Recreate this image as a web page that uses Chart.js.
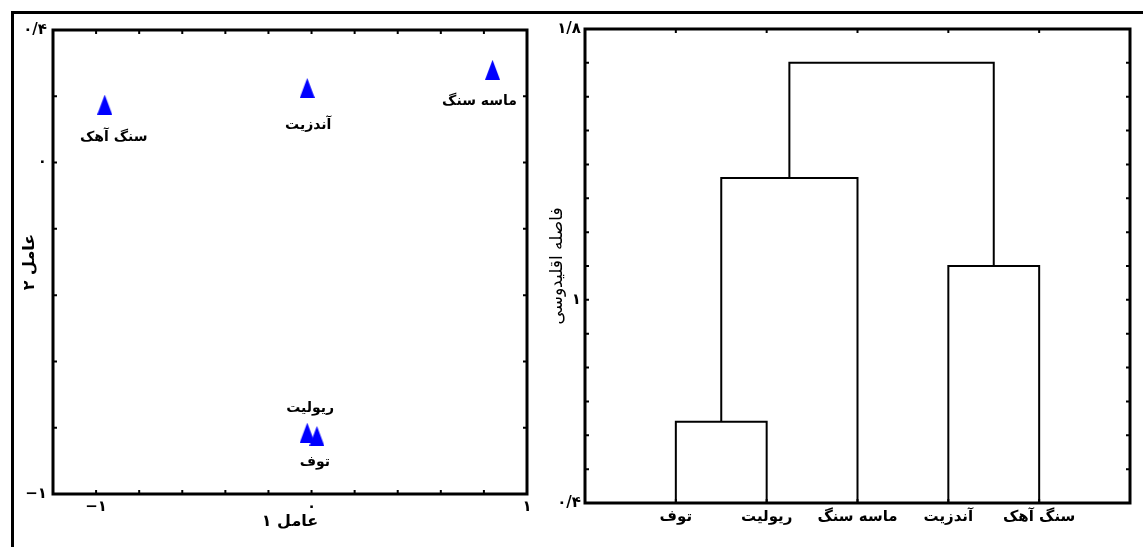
<!DOCTYPE html>
<html>
<head>
<meta charset="utf-8">
<script src="https://cdn.jsdelivr.net/npm/chart.js@4/dist/chart.umd.min.js"></script>
<style>
    body { margin: 0; background: #fff; width: 1143px; height: 547px; overflow: hidden; position: relative; }
    #frame { position: absolute; left: 11px; top: 11px; width: 1200px; height: 600px; border-top: 3px solid #000; border-left: 3px solid #000; }
    #left { position: absolute; left: 0; top: 0; }
    #right { position: absolute; left: 540px; top: 0; }
</style>
</head>
<body>
<div id="frame"></div>
<canvas id="left" width="560" height="547"></canvas>
<canvas id="right" width="603" height="547"></canvas>
<script>
// left panel: factor scores
const rocks = ['سنگ آهک', 'آندزیت', 'ماسه سنگ', 'ریولیت', 'توف'];
const factor1 = [-0.96, -0.02, 0.84, -0.02, 0.025];
const factor2 = [0.175, 0.225, 0.28, -0.815, -0.825];
const factor1Labels = [-1, 0, 1];
const factor2Labels = [-1, 0, 0.4];

// right panel: dendrogram
const leaves = ['توف', 'ریولیت', 'ماسه سنگ', 'آندزیت', 'سنگ آهک'];
const merges = [[0, 1], [5, 2], [3, 4], [6, 7]]; // node ids, leaves are 0..4
const mergeHeights = [0.64, 1.36, 1.10, 1.70];
const distLabels = [0.4, 1, 1.8];
const distMin = 0.4, distMax = 1.8;

// label placement (style only)
const rockLabelOffset = [[9, 33], [1, 37], [-13, 32], [3, -24], [-2, 26]];

const FONT = "'DejaVu Sans', sans-serif";
const faDigits = '۰۱۲۳۴۵۶۷۸۹';
function fa(v) {
    return String(+v.toFixed(2)).replace(/\d/g, d => faDigits[d]).replace('.', '/').replace('-', '−');
}
function pick(list) {
    return v => list.some(l => Math.abs(l - v) < 1e-6) ? fa(v) : '';
}

function triangleStyle() {
    const c = document.createElement('canvas');
    c.width = 15; c.height = 20;
    const g = c.getContext('2d');
    g.fillStyle = '#0000ff';
    g.beginPath();
    g.moveTo(7.5, 0); g.lineTo(15, 20); g.lineTo(0, 20);
    g.closePath();
    g.fill();
    return c;
}

// box round the plot area with small inner tick marks on all four sides
const boxTicks = {
    id: 'boxTicks',
    afterDatasetsDraw(chart) {
        const {ctx, chartArea: a} = chart;
        const sx = chart.scales.x, sy = chart.scales.y;
        ctx.save();
        ctx.strokeStyle = '#000';
        ctx.lineWidth = 2;
        ctx.beginPath();
        sx.ticks.forEach((t, i) => {
            const p = sx.getPixelForTick(i);
            ctx.moveTo(p, a.top); ctx.lineTo(p, a.top + 4);
            ctx.moveTo(p, a.bottom); ctx.lineTo(p, a.bottom - 4);
        });
        sy.ticks.forEach((t, i) => {
            const p = sy.getPixelForTick(i);
            ctx.moveTo(a.left, p); ctx.lineTo(a.left + 4, p);
            ctx.moveTo(a.right, p); ctx.lineTo(a.right - 4, p);
        });
        ctx.stroke();
        ctx.lineWidth = 3;
        ctx.strokeRect(a.left, a.top, a.right - a.left, a.bottom - a.top);
        ctx.restore();
    }
};

const pointNames = {
    id: 'pointNames',
    afterDatasetsDraw(chart) {
        const ctx = chart.ctx;
        const meta = chart.getDatasetMeta(0);
        ctx.save();
        ctx.fillStyle = '#000';
        ctx.font = 'bold 14px ' + FONT;
        ctx.textAlign = 'center';
        ctx.textBaseline = 'middle';
        meta.data.forEach((pt, i) => {
            ctx.fillText(rocks[i], pt.x + rockLabelOffset[i][0], pt.y + rockLabelOffset[i][1]);
        });
        ctx.restore();
    }
};

const tickFont = {family: FONT, size: 15, weight: 'bold'};

new Chart(document.getElementById('left'), {
    type: 'scatter',
    data: {
        datasets: [{
            data: rocks.map((r, i) => ({x: factor1[i], y: factor2[i]})),
            pointStyle: triangleStyle(),
            pointRadius: 10,
        }]
    },
    options: {
        responsive: false,
        animation: false,
        layout: {padding: {left: 0, top: 30, right: 33, bottom: 0}},
        plugins: {legend: {display: false}, tooltip: {enabled: false}},
        scales: {
            x: {
                type: 'linear', min: -1.2, max: 1.0,
                grid: {display: false, drawTicks: false},
                border: {display: false},
                ticks: {stepSize: 0.2, autoSkip: false, maxRotation: 0, padding: 4, color: '#000', font: tickFont, callback: pick(factor1Labels)},
                title: {display: true, text: 'عامل ۱', color: '#000', font: {family: FONT, size: 16, weight: 'bold'}, padding: {top: 0, bottom: 16}},
                afterFit: s => { s.height = 53; }
            },
            y: {
                type: 'linear', min: -1, max: 0.4,
                grid: {display: false, drawTicks: false},
                border: {display: false},
                ticks: {stepSize: 0.2, autoSkip: false, padding: 6, color: '#000', font: tickFont, callback: pick(factor2Labels)},
                title: {display: true, text: 'عامل ۲', color: '#000', font: {family: FONT, size: 16, weight: 'bold'}, padding: {top: 20, bottom: 0}},
                afterFit: s => { s.width = 53; }
            }
        }
    },
    plugins: [boxTicks, pointNames]
});

// build dendrogram links from the merges
const nodeX = leaves.map((l, i) => i + 1);
const nodeY = leaves.map(() => distMin);
const links = merges.map(([a, b], k) => {
    const h = mergeHeights[k];
    nodeX.push((nodeX[a] + nodeX[b]) / 2);
    nodeY.push(h);
    return [
        {x: nodeX[a], y: nodeY[a]}, {x: nodeX[a], y: h},
        {x: nodeX[b], y: h}, {x: nodeX[b], y: nodeY[b]}
    ];
});

new Chart(document.getElementById('right'), {
    type: 'scatter',
    data: {
        datasets: links.map(d => ({
            data: d, showLine: true, borderColor: '#000', borderWidth: 2,
            pointRadius: 0, tension: 0
        }))
    },
    options: {
        responsive: false,
        animation: false,
        layout: {padding: {left: 0, top: 29, right: 13, bottom: 0}},
        plugins: {legend: {display: false}, tooltip: {enabled: false}},
        scales: {
            x: {
                type: 'linear', min: 0, max: leaves.length + 1,
                grid: {display: false, drawTicks: false},
                border: {display: false},
                afterBuildTicks: s => { s.ticks = leaves.map((l, i) => ({value: i + 1})); },
                ticks: {autoSkip: false, maxRotation: 0, padding: 5, color: '#000', font: {family: FONT, size: 15, weight: 'bold'}, callback: v => leaves[v - 1] || ''},
                afterFit: s => { s.height = 44; }
            },
            y: {
                type: 'linear', min: distMin, max: distMax,
                grid: {display: false, drawTicks: false},
                border: {display: false},
                ticks: {stepSize: 0.1, autoSkip: false, padding: 4, color: '#000', font: tickFont, callback: pick(distLabels)},
                title: {display: true, text: 'فاصله اقلیدوسی', color: '#000', font: {family: FONT, size: 17}, padding: {top: 7, bottom: 0}},
                afterFit: s => { s.width = 45; }
            }
        }
    },
    plugins: [boxTicks]
});
</script>
</body>
</html>
